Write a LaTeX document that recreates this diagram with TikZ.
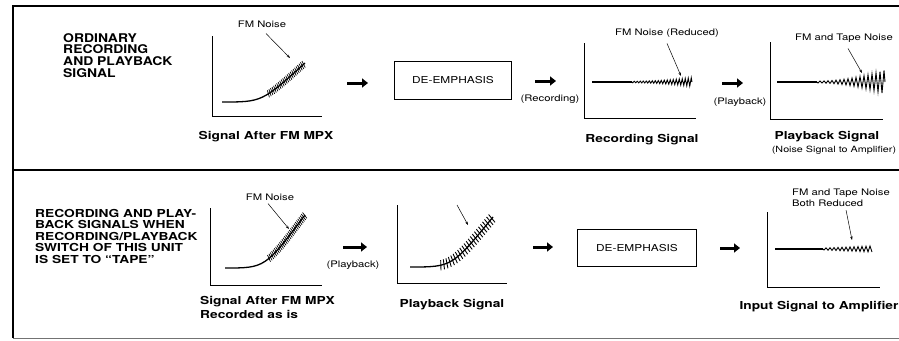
\documentclass[tikz,border=0pt]{standalone}
\usepackage{fontspec}
\setmainfont{TeX Gyre Heros}[FakeStretch=1.25]
\newfontfamily\widebold{texgyreheros-bold.otf}[FakeStretch=1.16]
\usetikzlibrary{arrows.meta,decorations.markings}

\begin{document}
\begin{tikzpicture}[
    x=1pt, y=-1pt,
    panel/.style={line width=1.2pt},
    axis/.style={line width=0.9pt},
    sig/.style={line width=1.3pt},
    noise/.style={line width=0.9pt},
    hatch/.style n args={4}{postaction={decorate}, decoration={markings,
        mark=between positions #1 and 1 step #3 with {\draw[line width=#4] (-1pt,-#2) -- (1pt,#2);}}},
    flow/.style={-{Triangle[length=6pt,width=9pt]}, line width=3pt},
    lead/.style={-{Stealth[length=3.5pt,width=2.5pt]}, line width=0.5pt},
    dbox/.style={rectangle, draw, line width=0.9pt, minimum width=117pt, minimum height=38pt, font=\fontsize{9.5}{11}\selectfont},
    title/.style={font=\fontsize{11}{11.5}\selectfont\bfseries, align=left, anchor=north west, inner sep=0pt},
    caption/.style={font=\fontsize{11}{14}\selectfont\bfseries, align=center, inner sep=0pt},
    lbl/.style={font=\fontsize{9}{11}\selectfont, align=left, inner sep=0pt}
]
\useasboundingbox (0,0) rectangle (899,340);

% ============ frame ============
\draw[panel] (899,6) -- (13,6) -- (13,338);
\draw[panel] (13,170) -- (899,170);
\draw[line width=0.8pt, black!55] (13,338) -- (899,338);

% ============ (a) ordinary signal ============
\node[title, font=\widebold\fontsize{12}{11.7}\selectfont] (title-a) at (63,33) {ORDINARY\\RECORDING\\AND PLAYBACK\\SIGNAL};

% signal after FM MPX
\draw[axis] (212,36) -- (212,116) -- (322,116);
\draw[sig, hatch={0.5}{3.5pt}{2pt}{0.7pt}] (222,102) .. controls (262,102) .. (305,63);
\node[lbl] (nz-a1) at (262,24) {FM Noise};
\coordinate (nz-a1-tip) at (290,58);
\draw[lead] ([xshift=4pt,yshift=-6pt]nz-a1.south) -- (nz-a1-tip);
\node[caption] (cap-a1) at (266,137) {Signal After FM MPX};

\coordinate (fa1-s) at (347,83);
\coordinate (fa1-e) at (368,83);
\draw[flow] (fa1-s) -- (fa1-e);

\node[dbox] (deemph-a) at (453,80) {DE-EMPHASIS};

\coordinate (fa2-s) at (535,81);
\coordinate (fa2-e) at (556,81);
\draw[flow] (fa2-s) -- (fa2-e);
\node[lbl] (rec-a) at (550,99) {(Recording)};

% recording signal
\draw[axis] (584,43) -- (584,118) -- (696,118);
\draw[sig] (592,82) -- (632,82);
\draw[noise] plot[domain=632:692, samples=81] (\x, {82 + (0.8+3.5*((\x-632)/60)^2)*sin(120*(\x-632))});
\node[lbl] (nz-a2) at (667,33) {FM Noise (Reduced)};
\coordinate (nz-a2-tip) at (681,76);
\draw[lead] ([yshift=-6pt]nz-a2.south) -- (nz-a2-tip);
\node[caption] (cap-a2) at (642,140) {Recording Signal};

\coordinate (fa3-s) at (722,83);
\coordinate (fa3-e) at (743,83);
\draw[flow] (fa3-s) -- (fa3-e);
\node[lbl] (pb-a) at (740,102) {(Playback)};

% playback signal
\draw[axis] (770,42) -- (770,119) -- (883,119);
\draw[sig] (777,82) -- (817,82);
\draw[noise] plot[domain=817:885, samples=69] (\x, {82 + (1+11*((\x-817)/68)^2)*sin(90*(\x-817))});
\node[lbl] (nz-a3) at (844,38) {FM and Tape Noise};
\coordinate (nz-a3-tip) at (862,73);
\draw[lead] ([xshift=4pt,yshift=-6pt]nz-a3.south) -- (nz-a3-tip);
\node[caption] (cap-a3) at (827,137) {Playback Signal};
\node[lbl, font=\fontsize{8.6}{10}\selectfont] (cap-a3-sub) at (834,150) {(Noise Signal to Amplifier)};

% ============ (b) tape switch ============
\node[title] (title-b) at (35,209) {RECORDING AND PLAY-\\BACK SIGNALS WHEN\\RECORDING/PLAYBACK\\SWITCH OF THIS UNIT\\IS SET TO ``TAPE''};

% signal after FM MPX, recorded
\draw[axis] (210,208) -- (210,285) -- (322,285);
\draw[sig, hatch={0.45}{3.5pt}{2pt}{0.7pt}] (225,268) .. controls (265,268) .. (305,215);
\node[lbl] (nz-b1) at (270,197) {FM Noise};
\coordinate (nz-b1-tip) at (289,229);
\draw[lead] ([xshift=-2pt,yshift=-3pt]nz-b1.south) -- (nz-b1-tip);
\node[caption, align=left, anchor=north west] (cap-b1) at (200,296) {Signal After FM MPX\\Recorded as is};

\coordinate (fb1-s) at (343,247);
\coordinate (fb1-e) at (367,247);
\draw[flow] (fb1-s) -- (fb1-e);
\node[lbl] (pb-b) at (353,265) {(Playback)};

% playback signal
\draw[axis] (397,205) -- (397,283) -- (507,283);
\draw[sig, hatch={0.3}{5pt}{3.2pt}{0.9pt}] (410,267) .. controls (452,267) .. (493,217);
\coordinate (nz-b2) at (457,205);
\coordinate (nz-b2-tip) at (468,225);
\draw[lead] (nz-b2) -- (nz-b2-tip);
\node[caption] (cap-b2) at (452,305) {Playback Signal};

\coordinate (fb2-s) at (533,247);
\coordinate (fb2-e) at (553,247);
\draw[flow] (fb2-s) -- (fb2-e);

\node[dbox, minimum width=119pt, minimum height=37pt] (deemph-b) at (637,248) {DE-EMPHASIS};

\coordinate (fb3-s) at (720,248);
\coordinate (fb3-e) at (740,248);
\draw[flow] (fb3-s) -- (fb3-e);

% input signal to amplifier
\draw[axis] (767,212) -- (767,287) -- (880,287);
\draw[sig] (775,249) -- (823,249);
\draw[noise] plot[domain=823:872, samples=50] (\x, {249 + (1+2*((\x-823)/49))*sin(90*(\x-823))});
\node[lbl, anchor=north west] (nz-b3) at (792,189) {FM and Tape Noise\\Both Reduced};
\coordinate (nz-b3-tip) at (852,240);
\draw[lead] ([xshift=5pt,yshift=-3pt]nz-b3.south) -- (nz-b3-tip);
\node[caption] (cap-b3) at (819,307) {Input Signal to Amplifier};

\end{tikzpicture}
\end{document}
